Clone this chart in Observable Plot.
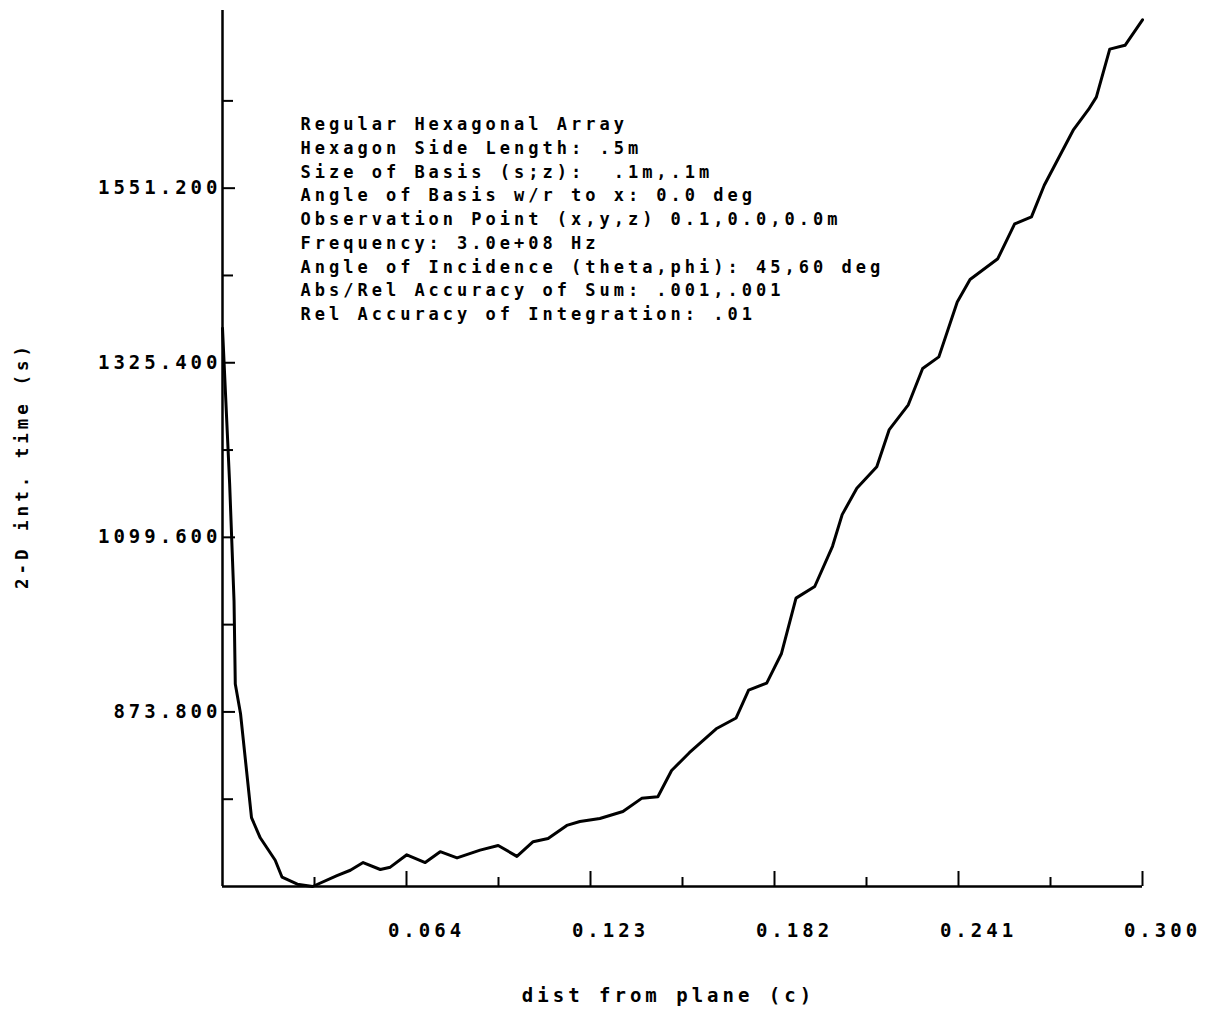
<!DOCTYPE html>
<html>
<head>
<meta charset="utf-8">
<script src="https://cdn.jsdelivr.net/npm/d3@7"></script>
<script src="https://cdn.jsdelivr.net/npm/@observablehq/plot@0.6"></script>
<style>
  html, body { margin: 0; padding: 0; background: #fff; }
  #chart svg { display: block; }
</style>
</head>
<body>
<div id="chart"></div>
<script>
// distance from plane (x) and 2-D integration time (y)
const distValues = [
  0.005, 0.0073, 0.0087, 0.0091, 0.0108, 0.0143, 0.0171, 0.0219, 0.0241, 0.0290,
  0.0339, 0.0417, 0.0460, 0.0501, 0.0556, 0.0588, 0.0641, 0.0700, 0.0748, 0.0802,
  0.0876, 0.0934, 0.0994, 0.1046, 0.1094, 0.1154, 0.1196, 0.1260, 0.1334, 0.1394,
  0.1446, 0.1490, 0.1547, 0.1633, 0.1697, 0.1737, 0.1795, 0.1842, 0.1889, 0.1949,
  0.2006, 0.2037, 0.2084, 0.2148, 0.2188, 0.2249, 0.2295, 0.2347, 0.2406, 0.2447,
  0.2536, 0.2590, 0.2644, 0.2685, 0.2779, 0.2827, 0.2852, 0.2895, 0.2944, 0.3000
];
const timeValues = [
  1370, 1168, 1017, 910, 871, 737, 711, 682, 660, 651,
  648, 662, 669, 679, 670, 673, 689, 679, 693, 685,
  695, 701, 687, 706, 710, 727, 732, 736, 745, 762,
  764, 798, 821, 852, 866, 902, 911, 949, 1021, 1036,
  1088, 1129, 1163, 1191, 1239, 1271, 1318, 1333, 1404, 1433,
  1460, 1505, 1514, 1555, 1627, 1653, 1669, 1731, 1736, 1769
];

const xDomain = [0.005, 0.300];
const yDomain = [648.0, 1781];
const xTickValues = [0.064, 0.123, 0.182, 0.241, 0.300];
const xMinorTicks = [0.0345, 0.0935, 0.1525, 0.2115, 0.2705];
const yTickValues = [873.8, 1099.6, 1325.4, 1551.2];
const yMinorTicks = [760.9, 986.7, 1212.5, 1438.3, 1664.1];

const xLabel = "dist from plane (c)";
const yLabel = "2-D int. time (s)";
const infoLines = [
  "Regular Hexagonal Array",
  "Hexagon Side Length: .5m",
  "Size of Basis (s;z):  .1m,.1m",
  "Angle of Basis w/r to x: 0.0 deg",
  "Observation Point (x,y,z) 0.1,0.0,0.0m",
  "Frequency: 3.0e+08 Hz",
  "Angle of Incidence (theta,phi): 45,60 deg",
  "Abs/Rel Accuracy of Sum: .001,.001",
  "Rel Accuracy of Integration: .01"
];

const data = distValues.map((d, i) => ({dist: d, time: timeValues[i]}));

const W = 1213, H = 1011;
const mL = 222, mR = 71, mT = 10, mB = 125;
const frameW = W - mL - mR, frameH = H - mT - mB;
const mono = "DejaVu Sans Mono, monospace";

const chart = Plot.plot({
  width: W,
  height: H,
  marginLeft: mL,
  marginRight: mR,
  marginTop: mT,
  marginBottom: mB,
  style: {background: "#fff", color: "#000", letterSpacing: "4px", fontFamily: mono},
  x: {domain: xDomain, axis: null},
  y: {domain: yDomain, axis: null},
  marks: [
    // axis lines
    Plot.ruleX([xDomain[0]], {stroke: "#000", strokeWidth: 2.5}),
    Plot.ruleY([yDomain[0]], {stroke: "#000", strokeWidth: 2.5}),
    // x ticks (inward)
    Plot.ruleX(xTickValues, {stroke: "#000", strokeWidth: 2, insetTop: frameH - 15}),
    Plot.ruleX(xMinorTicks, {stroke: "#000", strokeWidth: 2, insetTop: frameH - 9}),
    // y ticks (inward)
    Plot.ruleY(yTickValues, {stroke: "#000", strokeWidth: 2, insetRight: frameW - 13}),
    Plot.ruleY(yMinorTicks, {stroke: "#000", strokeWidth: 2, insetRight: frameW - 11}),
    // tick labels
    Plot.text(xTickValues, {
      x: d => d, frameAnchor: "bottom", dy: 44, dx: 20,
      text: d => d3.format(".3f")(d), fontSize: 19, fontWeight: "bold", fill: "#000", lineAnchor: "middle"
    }),
    Plot.text(yTickValues, {
      y: d => d, frameAnchor: "left", dx: -1, textAnchor: "end",
      text: d => d3.format(".3f")(d), fontSize: 19, fontWeight: "bold", fill: "#000", lineAnchor: "middle"
    }),
    // axis titles
    Plot.text([xLabel], {
      frameAnchor: "bottom", dx: -14, dy: 109, fontSize: 19, fontWeight: "bold", fill: "#000",
      textAnchor: "middle", lineAnchor: "middle"
    }),
    Plot.text([yLabel], {
      frameAnchor: "left", dx: -200, dy: 17, rotate: -90, fontSize: 17.5, fontWeight: "bold", fill: "#000",
      textAnchor: "middle", lineAnchor: "middle"
    }),
    // annotation block
    Plot.text([infoLines.join("\n")], {
      frameAnchor: "top-left", dx: 78, dy: 103, textAnchor: "start", lineAnchor: "top",
      lineHeight: 1.395, fontSize: 17, fontWeight: "bold", fill: "#000"
    }),
    // data curve
    Plot.line(data, {x: "dist", y: "time", stroke: "#000", strokeWidth: 3, strokeLinejoin: "round", strokeLinecap: "round"})
  ]
});

document.getElementById("chart").appendChild(chart);
</script>
</body>
</html>
